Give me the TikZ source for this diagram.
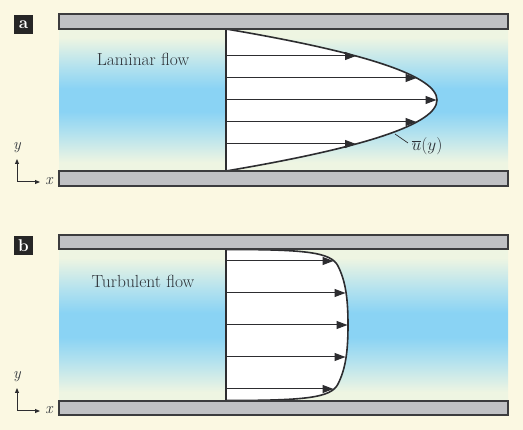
\documentclass[tikz,border=0pt]{standalone}
\usetikzlibrary{arrows.meta}
\definecolor{bg}{RGB}{251,248,226}
\definecolor{platefill}{RGB}{192,193,196}
\definecolor{platedraw}{RGB}{60,60,62}
\definecolor{dark}{RGB}{45,45,48}
\definecolor{txt}{RGB}{45,50,56}
\definecolor{fedge}{RGB}{238,245,226}
\definecolor{fmid}{RGB}{180,226,238}
\definecolor{fcen}{RGB}{138,211,244}
\pgfdeclareverticalshading{fluidshade}{100bp}{color(0bp)=(fedge); color(25bp)=(fedge); color(28bp)=(fedge); color(38bp)=(fmid); color(46bp)=(fcen); color(54bp)=(fcen); color(62bp)=(fmid); color(72bp)=(fedge); color(75bp)=(fedge); color(100bp)=(fedge)}
\begin{document}
\begin{tikzpicture}[x=1pt,y=-1pt,
  plate/.style={draw=platedraw, fill=platefill, line width=1.1pt},
  velarrow/.style={draw=dark, line width=1pt, -{Triangle[length=11pt,width=8pt]}},
  profile/.style={draw=dark, line width=1.6pt},
  axisarrow/.style={draw=dark, line width=1pt, -{Triangle[length=5pt,width=4pt]}},
  flowlabel/.style={text=txt, font=\fontsize{17.5}{19}\selectfont, inner sep=0pt},
  tag/.style={fill=black!85, text=white, font=\bfseries\fontsize{17}{17}\selectfont, minimum size=19pt, inner sep=0pt},
  axlabel/.style={text=txt, font=\itshape\fontsize{16}{16}\selectfont, inner sep=0pt},
  leader/.style={draw=dark, line width=0.7pt}
]
\useasboundingbox[fill=bg] (0,0) rectangle (523,430);

% ---------------- panel a ----------------
\shade[shading=fluidshade] (59,29) rectangle (508,171);
\coordinate (aTop) at (226,29);
\coordinate (aBot) at (226,171);
\fill[white] (aTop) .. controls (507.33,76.33) and (507.33,123.67) .. (aBot) -- cycle;
\foreach \yy/\xx [count=\i] in {56/356, 78/416.5, 100/436.5, 122/416.5, 144/356}{
  \coordinate (aS\i) at (226,\yy);
  \coordinate (aE\i) at (\xx,\yy);
  \draw[velarrow] (aS\i) -- (aE\i);
}
\draw[profile] (aBot) -- (aTop) .. controls (507.33,76.33) and (507.33,123.67) .. (aBot);
\node[flowlabel] (lam) at (143,59) {Laminar flow};
\node[text=txt, font=\fontsize{16}{16}\selectfont, inner sep=0pt] (ubar) at (427,146) {$\overline{u}(y)$};
\coordinate (ldA) at (395,134);
\coordinate (ldB) at (408,143);
\draw[leader] (ldA) -- (ldB);
\draw[plate] (59,14) rectangle (508,29);
\draw[plate] (59,171) rectangle (508,186);
\node[tag] (taga) at (23.5,24.5) {a};
\coordinate (aO) at (17,182);
\coordinate (aY) at (17,159);
\coordinate (aX) at (40,182);
\draw[axisarrow] (aO) -- (aY);
\draw[axisarrow] (aO) -- (aX);
\node[axlabel] (aylab) at (17,148) {y};
\node[axlabel] (axlab) at (49,181) {x};

% ---------------- panel b ----------------
\shade[shading=fluidshade] (59,249) rectangle (508,401);
\coordinate (bTop) at (226,249.5);
\coordinate (bBot) at (226,400.5);
\coordinate (bMid) at (348,325);
\fill[white] (bTop) .. controls (305,249.5) and (331,252) .. (338,266)
  .. controls (346,282) and (348,300) .. (bMid)
  .. controls (348,350) and (346,368) .. (338,384)
  .. controls (331,398) and (305,400.5) .. (bBot) -- cycle;
\foreach \yy/\xx [count=\i] in {261/333.5, 293/345.5, 325/347.5, 357/345.5, 389/333.5}{
  \coordinate (bS\i) at (226,\yy);
  \coordinate (bE\i) at (\xx,\yy);
  \draw[velarrow] (bS\i) -- (bE\i);
}
\draw[profile] (bBot) -- (bTop) .. controls (305,249.5) and (331,252) .. (338,266)
  .. controls (346,282) and (348,300) .. (bMid)
  .. controls (348,350) and (346,368) .. (338,384)
  .. controls (331,398) and (305,400.5) .. (bBot);
\node[flowlabel] (turb) at (143,281) {Turbulent flow};
\draw[plate] (59,235) rectangle (508,249);
\draw[plate] (59,401) rectangle (508,415);
\node[tag] (tagb) at (23.5,245.5) {b};
\coordinate (bO) at (17,411);
\coordinate (bY) at (17,388);
\coordinate (bX) at (40,411);
\draw[axisarrow] (bO) -- (bY);
\draw[axisarrow] (bO) -- (bX);
\node[axlabel] (bylab) at (17,377) {y};
\node[axlabel] (bxlab) at (49,410) {x};
\end{tikzpicture}
\end{document}
